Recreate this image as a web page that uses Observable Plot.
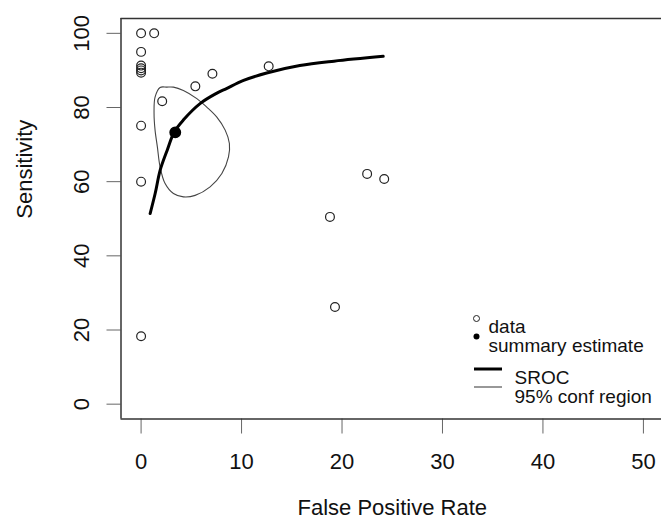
<!DOCTYPE html>
<html><head><meta charset="utf-8">
<script src="https://cdn.jsdelivr.net/npm/d3@7"></script>
<script src="https://cdn.jsdelivr.net/npm/@observablehq/plot@0.6"></script>
<style>body{margin:0;background:#fff}</style>
</head><body><div id="chart"></div>
<script>
// Study data (false positive rate %, sensitivity %)
const studyFpr  = [0, 1.3, 0, 0, 0, 0, 0, 2.1, 0, 0, 5.4, 7.1, 12.7, 22.5, 24.2, 18.8, 19.3, 0];
const studySens = [100, 100, 95, 91.3, 90.6, 90.0, 89.4, 81.7, 75.1, 60, 85.7, 89.1, 91.1, 62.1, 60.7, 50.5, 26.2, 18.3];

// Summary estimate
const summaryFpr = [3.4];
const summarySens = [73.3];

// SROC curve
const srocFpr  = [0.9, 1.4, 1.9, 2.6, 3.3, 4.2, 5.9, 7.5, 8.5, 10.2, 12.5, 15.8, 19.2, 24.1];
const srocSens = [51.4, 56.8, 63.1, 68.5, 73.4, 76.6, 81.1, 83.8, 85.1, 87.3, 89.3, 91.3, 92.5, 93.8];

// 95% confidence region
const confFpr  = [2.56, 1.89, 1.39, 1.29, 1.39, 1.62, 1.89, 2.39, 3.22, 4.21, 5.38, 6.87, 8.04, 8.70, 8.79, 8.37, 7.54, 6.54, 5.55, 4.21, 3.22];
const confSens = [85.5, 85.4, 82.8, 78.4, 73.9, 69.4, 64.0, 59.5, 56.8, 55.9, 56.3, 58.6, 62.2, 66.7, 70.3, 73.9, 77.4, 80.1, 82.4, 84.6, 85.5];

const xTicks = [0, 10, 20, 30, 40, 50];
const yTicks = [0, 20, 40, 60, 80, 100];
const xTitle = "False Positive Rate";
const yTitle = "Sensitivity";
const legendPointLabels = ["data", "summary estimate"];
const legendLineLabels = ["SROC", "95% conf region"];

const studies = studyFpr.map((x, i) => ({x, y: studySens[i]}));
const summary = summaryFpr.map((x, i) => ({x, y: summarySens[i]}));
const sroc = srocFpr.map((x, i) => ({x, y: srocSens[i]}));
const conf = confFpr.map((x, i) => ({x, y: confSens[i]}));

const font = "'Liberation Sans', Arial, sans-serif";

// legend line samples (custom render mark)
function legendLines(index, scales, values, dims) {
  const g = d3.create("svg:g");
  const x0 = dims.marginLeft + 353.5, x1 = dims.marginLeft + 381.5;
  const items = [{dy: 351, w: 3}, {dy: 369, w: 1.1}];
  for (const it of items) {
    g.append("line")
      .attr("x1", x0).attr("x2", x1)
      .attr("y1", dims.marginTop + it.dy).attr("y2", dims.marginTop + it.dy)
      .attr("stroke", it.w > 2 ? "#000" : "#444")
      .attr("stroke-width", it.w);
  }
  return g.node();
}

const chart = Plot.plot({
  width: 661,
  height: 528,
  marginLeft: 120.5,
  marginRight: -2,
  marginTop: 18,
  marginBottom: 109.5,
  x: {domain: [-2, 52]},
  y: {domain: [-4, 104]},
  style: {fontFamily: font, background: "#fff", color: "#111"},
  marks: [
    Plot.axisX({ticks: xTicks, tickSize: 15, tickPadding: 19, fontSize: 22, stroke: "#666", label: null}),
    Plot.axisY({ticks: yTicks, tickSize: 14, tickPadding: 18, tickRotate: -90, fontSize: 22, stroke: "#666", label: null}),
    Plot.ruleY([-4, 104], {stroke: "#333", strokeWidth: 1.5}),
    Plot.ruleX([-2], {stroke: "#333", strokeWidth: 1.5}),
    Plot.text([xTitle], {frameAnchor: "bottom", dy: 96, fontSize: 22, fill: "#111"}),
    Plot.text([yTitle], {frameAnchor: "left", dx: -96, rotate: -90, fontSize: 22, fill: "#111"}),
    Plot.line(conf, {x: "x", y: "y", curve: "catmull-rom-closed", stroke: "#444", strokeWidth: 1.1}),
    Plot.line(sroc, {x: "x", y: "y", curve: "catmull-rom", stroke: "#000", strokeWidth: 3}),
    Plot.dot(studies, {x: "x", y: "y", r: 4.4, stroke: "#222", strokeWidth: 1.2, fill: "none"}),
    Plot.dot(summary, {x: "x", y: "y", r: 5.2, fill: "#000", stroke: "#000"}),
    // legend
    Plot.dot([legendPointLabels[0]], {frameAnchor: "top-left", dx: 355.5, dy: 300, r: 3, stroke: "#222", strokeWidth: 1, fill: "none"}),
    Plot.dot([legendPointLabels[1]], {frameAnchor: "top-left", dx: 355.5, dy: 318, r: 3, fill: "#000"}),
    Plot.text([legendPointLabels[0]], {frameAnchor: "top-left", dx: 367.5, dy: 301, textAnchor: "start", fontSize: 19, fill: "#111"}),
    Plot.text([legendPointLabels[1]], {frameAnchor: "top-left", dx: 367.5, dy: 320, textAnchor: "start", fontSize: 19, fill: "#111"}),
    legendLines,
    Plot.text([legendLineLabels[0]], {frameAnchor: "top-left", dx: 393.5, dy: 352, textAnchor: "start", fontSize: 19, fill: "#111"}),
    Plot.text([legendLineLabels[1]], {frameAnchor: "top-left", dx: 393.5, dy: 371, textAnchor: "start", fontSize: 19, fill: "#111"})
  ]
});
document.getElementById("chart").appendChild(chart);
</script>
</body></html>
